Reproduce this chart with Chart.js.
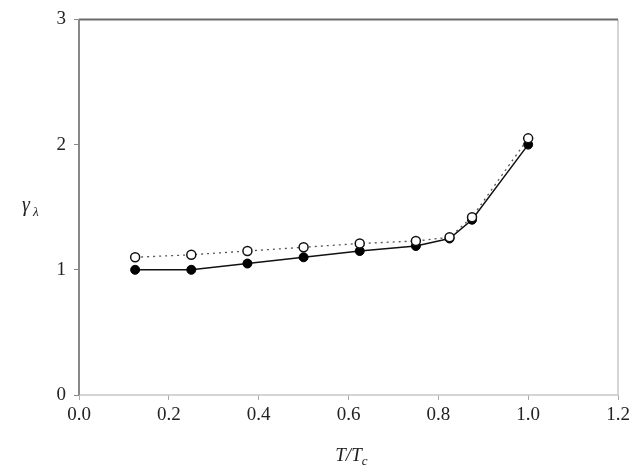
<!DOCTYPE html>
<html>
<head>
<meta charset="utf-8">
<script src="https://cdn.jsdelivr.net/npm/chart.js@4"></script>
<style>
  body { margin: 0; background: #fff; }
  #wrap { width: 634px; height: 467px; }
</style>
</head>
<body>
<div id="wrap"><canvas id="chart" width="634" height="467"></canvas></div>
<script>
// data
const tRatio = [0.125, 0.25, 0.375, 0.5, 0.625, 0.75, 0.825, 0.875, 1.0];
const gammaOpen = [1.10, 1.12, 1.15, 1.18, 1.21, 1.23, 1.26, 1.42, 2.05];
const gammaFilled = [1.00, 1.00, 1.05, 1.10, 1.15, 1.19, 1.25, 1.40, 2.00];
const xTicks = [0, 0.2, 0.4, 0.6, 0.8, 1.0, 1.2];
const yTicks = [0, 1, 2, 3];

const serif = '"Liberation Serif", "DejaVu Serif", serif';

const toPoints = (xs, ys) => xs.map((x, i) => ({ x: x, y: ys[i] }));

// frame + axis titles
const framePlugin = {
    id: 'frame',
    afterDraw: (chart) => {
        const { ctx, chartArea: a } = chart;
        ctx.save();
        // light right / bottom border
        ctx.strokeStyle = '#c8c8c8';
        ctx.lineWidth = 1.5;
        ctx.beginPath();
        ctx.moveTo(a.left, a.bottom);
        ctx.lineTo(a.right, a.bottom);
        ctx.lineTo(a.right, a.top);
        ctx.stroke();
        // dark top border
        ctx.strokeStyle = '#6a6a6a';
        ctx.lineWidth = 2;
        ctx.beginPath();
        ctx.moveTo(a.left, a.top);
        ctx.lineTo(a.right, a.top);
        ctx.stroke();
        // left axis
        ctx.strokeStyle = '#888';
        ctx.lineWidth = 2;
        ctx.beginPath();
        ctx.moveTo(a.left, a.top);
        ctx.lineTo(a.left, a.bottom);
        ctx.stroke();

        ctx.fillStyle = '#222';
        ctx.textBaseline = 'alphabetic';
        // y title: gamma_lambda
        ctx.font = 'italic 20px ' + serif;
        ctx.textAlign = 'left';
        ctx.fillText('γ', 22, 211);
        ctx.font = 'italic 13px ' + serif;
        ctx.fillText('λ', 33, 216);
        // x title: T/T_c
        ctx.font = 'italic 19px ' + serif;
        const main = 'T/T';
        const w = ctx.measureText(main).width;
        const cx = (a.left + a.right) / 2 + 4;
        ctx.fillText(main, cx - w / 2 - 4, 461);
        ctx.font = 'italic 13px ' + serif;
        ctx.fillText('c', cx + w / 2 - 4, 465);
        ctx.restore();
    }
};

new Chart(document.getElementById('chart'), {
    type: 'scatter',
    data: {
        datasets: [
            {
                label: 'open',
                data: toPoints(tRatio, gammaOpen),
                showLine: true,
                borderColor: '#555',
                borderWidth: 1.3,
                borderDash: [2, 4],
                pointStyle: 'circle',
                pointRadius: 4.5,
                pointBorderWidth: 1.5,
                pointBorderColor: '#111',
                pointBackgroundColor: '#fff',
                order: 0
            },
            {
                label: 'filled',
                data: toPoints(tRatio, gammaFilled),
                showLine: true,
                borderColor: '#111',
                borderWidth: 1.5,
                pointStyle: 'circle',
                pointRadius: 4.5,
                pointBorderWidth: 1,
                pointBorderColor: '#000',
                pointBackgroundColor: '#000',
                order: 1
            }
        ]
    },
    options: {
        responsive: false,
        animation: false,
        layout: { padding: { top: 18, right: 16, left: 0, bottom: 0 } },
        plugins: {
            legend: { display: false },
            tooltip: { enabled: false }
        },
        scales: {
            x: {
                type: 'linear',
                min: 0,
                max: 1.2,
                afterBuildTicks: (axis) => { axis.ticks = xTicks.map(v => ({ value: v })); },
                afterFit: (axis) => { axis.height = 72; },
                border: { display: false },
                grid: { drawOnChartArea: false, drawTicks: true, tickLength: 5, color: '#aaa' },
                ticks: {
                    color: '#222',
                    padding: 4,
                    font: { family: serif, size: 19 },
                    callback: (v) => v.toFixed(1)
                }
            },
            y: {
                type: 'linear',
                min: 0,
                max: 3,
                afterBuildTicks: (axis) => { axis.ticks = yTicks.map(v => ({ value: v })); },
                afterFit: (axis) => { axis.width = 79; },
                border: { display: false },
                grid: { drawOnChartArea: false, drawTicks: true, tickLength: 5, color: '#888' },
                ticks: {
                    color: '#222',
                    padding: 8,
                    font: { family: serif, size: 19 },
                    callback: (v) => String(v)
                }
            }
        }
    },
    plugins: [framePlugin]
});
</script>
</body>
</html>
